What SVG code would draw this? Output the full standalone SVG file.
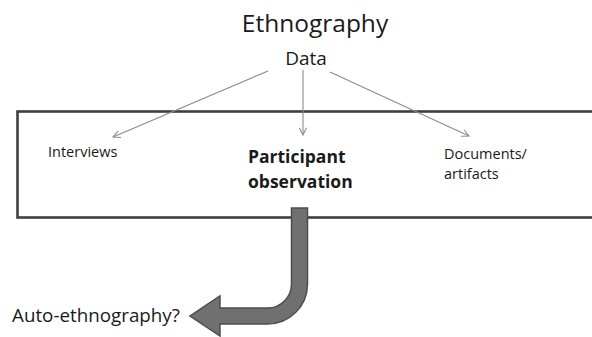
<svg xmlns="http://www.w3.org/2000/svg" width="592" height="337" viewBox="0 0 592 337">
  <defs>
    <marker id="open-arrow" viewBox="0 0 10 10" refX="9" refY="5" markerWidth="9" markerHeight="9" markerUnits="userSpaceOnUse" orient="auto">
      <path d="M1,1 L9,5 L1,9" fill="none" stroke="#8c8c8c" stroke-width="1.2"/>
    </marker>
  </defs>
  <style>
    text { font-family: "Open Sans", "Noto Sans", "Liberation Sans", sans-serif; fill: #1a1a1a; }
    .label { font-size: 14.5px; }
    .bold { font-size: 17.5px; font-weight: bold; }
    .link { stroke: #8c8c8c; stroke-width: 1.1; fill: none; marker-end: url(#open-arrow); }
  </style>
  <rect width="592" height="337" fill="#ffffff"/>

  <!-- header -->
  <g id="title">
    <text x="315" y="32" font-size="24.5" text-anchor="middle">Ethnography</text>
  </g>
  <g id="data">
    <text x="306" y="65" font-size="19" text-anchor="middle">Data</text>
  </g>

  <!-- field box with the three data sources -->
  <g id="field">
    <rect x="17.5" y="111.5" width="590" height="106" fill="none" stroke="#3f3f3f" stroke-width="2.6"/>
  </g>
  <g id="interviews">
    <text class="label" x="48" y="157">Interviews</text>
  </g>
  <g id="participant-observation">
    <text class="bold" x="248" y="163">Participant</text>
    <text class="bold" x="248" y="188">observation</text>
  </g>
  <g id="documents">
    <text class="label" x="444" y="159">Documents/</text>
    <text class="label" x="444" y="179">artifacts</text>
  </g>

  <!-- connectors -->
  <g id="connectors">
    <line class="link" x1="268" y1="71" x2="113" y2="137"/>
    <line class="link" x1="303" y1="70" x2="303" y2="135"/>
    <line class="link" x1="330" y1="72" x2="469" y2="136"/>
    <path id="bent-arrow" d="M291.5,208 H307.5 V284 A40,40 0 0 1 267.5,324 H220 V336 L190,316 L220,296 V308 H267.5 A24,24 0 0 0 291.5,284 Z" fill="#707070" stroke="#4d4d4d" stroke-width="1.5" stroke-linejoin="miter"/>
  </g>

  <g id="auto-ethnography">
    <text x="12" y="322" font-size="18.8">Auto-ethnography?</text>
  </g>
</svg>
